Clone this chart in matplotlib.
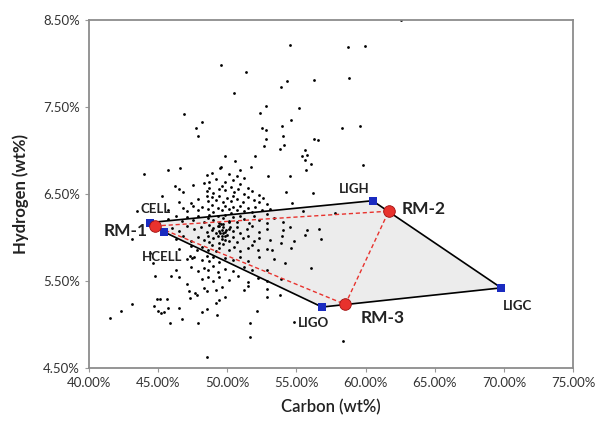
import matplotlib
matplotlib.use("Agg")
import matplotlib.pyplot as plt
from matplotlib.ticker import FuncFormatter

plt.rcParams['font.family'] = ['Lato', 'DejaVu Sans']

# reference materials (C wt%, H wt%)
vert_names = ["CELL", "LIGH", "LIGC", "LIGO", "HCELL"]
vert_c = [44.44, 60.5, 69.8, 56.85, 45.45]
vert_h = [6.17, 6.42, 5.42, 5.20, 6.06]

rm_names = ["RM-1", "RM-2", "RM-3"]
rm_c = [44.76, 61.67, 58.53]
rm_h = [6.13, 6.30, 5.23]

# scattered samples, outer points
outer_pts = [
    (62.55, 8.49), (54.52, 8.21), (58.70, 8.19), (59.96, 8.20), (49.57, 7.98), (51.36, 7.90),
    (58.83, 7.83), (56.30, 7.81), (54.30, 7.79), (53.89, 7.73), (50.48, 7.66), (52.81, 7.51),
    (55.15, 7.48), (52.35, 7.43), (46.90, 7.41), (54.57, 7.35), (48.14, 7.32), (47.75, 7.25),
    (52.48, 7.26), (52.81, 7.23), (53.97, 7.28), (58.26, 7.26), (59.60, 7.28), (47.86, 7.16),
    (52.81, 7.13), (54.02, 7.16), (56.25, 7.13), (56.58, 7.12), (52.68, 7.05), (54.13, 7.06),
    (53.83, 7.01), (55.62, 7.00), (49.84, 6.93), (51.99, 6.93), (55.37, 6.93), (55.73, 6.94),
    (50.59, 6.88), (55.64, 6.89), (44.01, 6.73), (45.72, 6.77), (46.60, 6.79), (59.82, 6.83),
    (56.05, 6.84), (49.51, 6.81), (51.68, 6.81), (55.67, 6.77), (54.52, 6.70), (52.95, 6.70),
    (56.22, 6.51), (54.24, 6.52), (46.21, 6.59), (46.49, 6.55), (46.82, 6.52), (47.51, 6.60),
    (45.31, 6.47), (43.44, 6.30), (45.72, 6.31), (46.54, 6.40), (47.37, 6.39), (43.10, 5.98),
    (55.76, 6.08), (56.66, 6.09), (56.80, 5.98), (55.62, 6.03), (54.79, 5.96), (56.03, 5.65),
    (53.20, 5.86), (54.57, 5.88), (53.97, 6.01), (54.71, 6.39), (55.48, 6.30), (57.82, 6.28),
    (41.54, 5.07), (42.31, 5.16), (43.11, 5.23), (44.67, 5.21), (44.89, 5.29), (45.11, 5.29),
    (45.64, 5.29), (45.00, 5.15), (45.22, 5.13), (45.42, 5.14), (45.72, 5.19), (45.88, 5.02),
    (46.54, 5.19), (46.76, 5.06), (47.31, 5.30), (47.78, 5.34), (47.86, 5.02), (48.19, 5.14),
    (48.55, 5.18), (48.50, 4.63), (49.21, 5.25), (49.24, 5.11), (49.43, 5.28), (49.84, 5.32),
    (51.63, 5.02), (51.63, 4.86), (52.13, 5.16), (52.87, 5.31), (53.83, 5.34), (54.85, 5.03),
    (58.37, 4.81), (44.78, 5.56), (44.62, 5.70), (44.43, 5.82), (45.94, 5.56), (46.54, 5.54),
    (47.09, 5.47), (47.23, 5.38), (47.64, 5.36), (47.30, 5.79), (47.45, 5.76),
]

# dense cluster
cluster_pts = [
    (49.5, 6.79), (50.9, 6.77), (50.1, 6.73), (48.9, 6.74), (48.5, 6.72),
    (49.2, 6.67), (49.8, 6.63), (50.4, 6.66), (50.9, 6.61), (51.2, 6.68), (49.65, 6.59), (48.7, 6.64), (48.3, 6.62), (50.7, 6.70),
    (48.5, 6.53), (48.7, 6.57), (49.0, 6.51), (49.4, 6.56), (49.8, 6.54), (50.3, 6.58), (50.5, 6.52), (50.8, 6.55),
    (51.2, 6.50), (51.5, 6.57), (51.8, 6.53), (52.3, 6.49),
    (47.9, 6.44), (48.5, 6.47), (48.6, 6.42), (48.9, 6.46), (49.2, 6.43), (49.4, 6.48), (49.7, 6.41), (50.0, 6.45),
    (50.3, 6.42), (50.4, 6.47), (50.7, 6.44), (51.1, 6.40), (51.5, 6.46), (51.9, 6.43), (52.3, 6.41), (52.6, 6.45), (52.9, 6.38),
    (46.8, 6.34), (47.1, 6.30), (47.5, 6.36), (47.9, 6.31), (48.2, 6.35), (48.6, 6.32), (48.9, 6.37), (49.0, 6.29),
    (49.3, 6.34), (49.6, 6.31), (49.8, 6.36), (50.1, 6.33), (50.3, 6.28), (50.4, 6.35), (50.7, 6.31), (50.9, 6.36),
    (51.2, 6.30), (51.5, 6.34), (51.8, 6.29), (52.0, 6.35), (52.5, 6.31), (52.9, 6.27), (53.1, 6.33),
    (45.7, 6.21), (46.3, 6.24), (46.7, 6.19), (47.1, 6.23), (47.5, 6.20), (47.9, 6.25), (48.3, 6.18), (48.6, 6.22),
    (48.7, 6.26), (49.0, 6.20), (49.3, 6.24), (49.4, 6.17), (49.7, 6.22), (49.8, 6.26), (50.1, 6.19), (50.4, 6.23),
    (50.7, 6.18), (50.9, 6.25), (51.2, 6.21), (51.6, 6.17), (51.9, 6.24), (52.3, 6.20), (52.9, 6.16), (53.4, 6.22), (54.0, 6.18),
    (46.0, 6.11), (46.5, 6.07), (47.1, 6.13), (47.6, 6.09), (48.1, 6.12), (48.5, 6.06), (48.7, 6.14), (48.9, 6.08),
    (49.0, 6.11), (49.2, 6.05), (49.4, 6.13), (49.6, 6.08), (49.7, 6.15), (49.8, 6.06), (50.1, 6.10), (50.4, 6.07),
    (50.7, 6.12), (50.9, 6.05), (51.4, 6.09), (51.8, 6.13), (52.3, 6.06), (52.9, 6.10), (54.0, 6.08), (54.5, 6.12),
    (46.3, 5.98), (46.8, 6.01), (47.4, 5.96), (47.9, 6.00), (48.3, 5.97), (48.6, 6.02), (48.7, 5.95), (49.0, 5.99),
    (49.3, 6.02), (49.4, 5.94), (49.6, 5.98), (49.8, 6.01), (50.1, 5.96), (50.4, 6.00), (50.7, 5.95), (51.1, 5.99),
    (51.5, 6.02), (51.9, 5.96), (52.3, 5.99), (53.1, 5.97), (53.9, 5.93),
    (46.5, 5.87), (47.4, 5.90), (47.8, 5.85), (48.2, 5.89), (48.6, 5.86), (48.9, 5.91), (49.2, 5.84), (49.4, 5.88),
    (49.7, 5.92), (50.1, 5.86), (50.5, 5.89), (50.9, 5.84), (51.5, 5.88), (51.8, 5.91), (52.2, 5.85), (52.9, 5.87),
    (47.1, 5.75), (47.6, 5.78), (48.2, 5.74), (48.5, 5.79), (48.7, 5.73), (49.0, 5.77), (49.4, 5.72), (49.8, 5.76),
    (50.4, 5.74), (50.9, 5.78), (51.5, 5.73), (52.3, 5.77), (53.4, 5.75), (54.2, 5.71),
    (46.3, 5.63), (47.4, 5.66), (47.9, 5.61), (48.3, 5.65), (48.6, 5.62), (49.0, 5.67), (49.3, 5.60), (49.8, 5.64),
    (50.4, 5.61), (51.2, 5.66), (51.8, 5.62), (52.9, 5.63),
    (48.2, 5.52), (48.6, 5.55), (49.0, 5.50), (49.4, 5.54), (50.1, 5.51), (50.8, 5.56), (51.5, 5.49), (52.2, 5.53),
    (52.9, 5.50), (53.9, 5.52),
    (48.3, 5.42), (48.5, 5.38), (49.2, 5.40), (49.6, 5.43), (51.2, 5.39), (51.5, 5.44), (52.9, 5.41),
    (49.5, 6.05), (49.6, 6.02), (49.7, 6.12), (49.9, 6.08), (50.0, 6.03), (49.55, 6.15), (49.8, 5.97), (50.2, 6.12),
    (49.4, 6.07), (49.7, 6.05), (50.1, 6.18), (49.3, 6.13),
]

samples = outer_pts + cluster_pts
samp_c = [p[0] for p in samples]
samp_h = [p[1] for p in samples]

x_ticks = [40, 45, 50, 55, 60, 65, 70, 75]
y_ticks = [4.5, 5.5, 6.5, 7.5, 8.5]

fig = plt.figure(figsize=(5.97, 4.24), dpi=100)
ax = fig.add_axes([0.149, 0.132, 0.811, 0.822])

# grey polygon of reference materials
poly_c = vert_c + [vert_c[0]]
poly_h = vert_h + [vert_h[0]]
ax.fill(poly_c, poly_h, color='#ececec', zorder=1)

ax.scatter(samp_c, samp_h, s=4, color='black', zorder=2, linewidths=0)

ax.plot(poly_c, poly_h, color='black', lw=1.2, zorder=3)
ax.plot(rm_c + [rm_c[0]], rm_h + [rm_h[0]], color='#e8322d', lw=1.0, ls=(0, (3, 2)), zorder=4)

ax.scatter(vert_c, vert_h, marker='s', s=28, color='#1a2bc0', zorder=5, linewidths=0)
ax.scatter(rm_c, rm_h, marker='o', s=70, color='#e8322d', edgecolors='#a01010', linewidths=0.6, zorder=6)

# labels
lab_pos = {"CELL": (44.85, 6.33), "LIGH": (59.2, 6.55), "LIGC": (70.95, 5.21),
           "LIGO": (56.25, 5.02), "HCELL": (45.3, 5.77)}
for n in vert_names:
    ax.text(lab_pos[n][0], lab_pos[n][1], n, fontsize=9.5, fontweight='bold',
            color='#222222', ha='center', va='center', zorder=7)
rm_pos = {"RM-1": (42.64, 6.07), "RM-2": (64.2, 6.33), "RM-3": (61.25, 5.07)}
for n in rm_names:
    ax.text(rm_pos[n][0], rm_pos[n][1], n, fontsize=12.5, fontweight='bold',
            color='#222222', ha='center', va='center', zorder=7)

ax.set_xlim(40, 75)
ax.set_ylim(4.5, 8.5)
ax.set_xticks(x_ticks)
ax.set_yticks(y_ticks)
ax.xaxis.set_major_formatter(FuncFormatter(lambda v, p: "%.2f%%" % v))
ax.yaxis.set_major_formatter(FuncFormatter(lambda v, p: "%.2f%%" % v))
ax.tick_params(axis='both', labelsize=9.5, colors='#333333', length=3, width=0.8, direction='out')
ax.tick_params(axis='both', color='#999999')

for sp in ax.spines.values():
    sp.set_color('#8c8c8c')
    sp.set_linewidth(1.3)

ax.set_xlabel("Carbon (wt%)", fontsize=12, fontweight='semibold', color='#222222', labelpad=7)
ax.set_ylabel("Hydrogen (wt%)", fontsize=12, fontweight='bold', color='#222222', labelpad=10)

fig.savefig("out.png", dpi=100)
